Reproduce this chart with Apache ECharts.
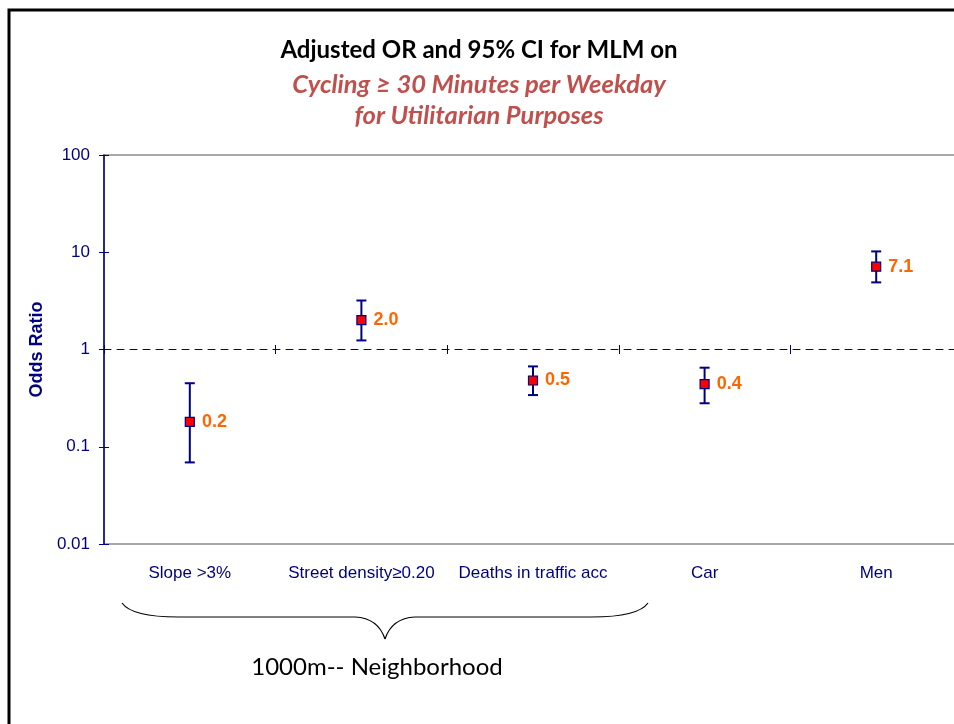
<!DOCTYPE html>
<html>
<head>
<meta charset="utf-8">
<script src="https://cdn.jsdelivr.net/npm/echarts@6/dist/echarts.min.js"></script>
<style>
  html, body { margin: 0; padding: 0; background: #fff; overflow: hidden; }
  #chart { width: 972px; height: 724px; }
</style>
</head>
<body>
<div id="chart"></div>
<script>
// Predictors on the x axis
const categories = ['Slope >3%', 'Street density\u22650.20', 'Deaths in traffic acc', 'Car', 'Men'];
// Adjusted odds ratios and 95% confidence limits
const oddsRatio = [0.18, 2.0, 0.48, 0.44, 7.1];
const ciLower   = [0.069, 1.24, 0.34, 0.28, 4.9];
const ciUpper   = [0.45, 3.19, 0.67, 0.65, 10.2];
// Y axis tick labels (log scale)
const yTicks = [0.01, 0.1, 1, 10, 100];

const NAVY = '#000080';
const chart = echarts.init(document.getElementById('chart'));

// plot area runs slightly past the right edge of the visible slide
const gridBox = { left: 104, top: 155, width: 858, height: 389 };

const yFmt = v => {
  let best = yTicks[0];
  yTicks.forEach(t => { if (Math.abs(Math.log10(t) - Math.log10(v)) < Math.abs(Math.log10(best) - Math.log10(v))) best = t; });
  return String(best);
};

const braceStyle = { stroke: '#000', lineWidth: 1.2, fill: null };

chart.setOption({
  animation: false,
  grid: Object.assign({ show: true, borderColor: '#8c8c8c', borderWidth: 1.5, backgroundColor: 'transparent' }, gridBox),
  xAxis: [
    {
      type: 'category', data: categories, position: 'bottom',
      axisLine: { show: false }, axisTick: { show: false },
      axisLabel: { color: NAVY, fontFamily: 'Liberation Sans', fontSize: 17, margin: 21, interval: 0 }
    },
    {
      // reference line at OR = 1, with ticks between categories
      type: 'category', data: categories, position: 'bottom', offset: -195,
      axisLine: { show: true, lineStyle: { color: NAVY, type: [7, 6], width: 1 } },
      axisTick: { show: true, length: 5, lineStyle: { color: NAVY } },
      axisLabel: { show: false }
    },
    {
      type: 'category', data: categories, position: 'bottom', offset: -195,
      axisLine: { show: false },
      axisTick: { show: true, inside: true, length: 4, lineStyle: { color: NAVY } },
      axisLabel: { show: false }
    }
  ],
  yAxis: [
    {
      type: 'log', logBase: 10, min: 0.01, max: 100,
      name: 'Odds Ratio', nameLocation: 'middle', nameGap: 57, nameRotate: 90,
      nameTextStyle: { color: NAVY, fontFamily: 'Liberation Sans', fontSize: 18, fontWeight: 'bold' },
      axisLine: { show: true, lineStyle: { color: NAVY, width: 1.5 } },
      axisTick: { show: true, length: 5, lineStyle: { color: NAVY } },
      axisLabel: { color: NAVY, fontFamily: 'Liberation Sans', fontSize: 17, margin: 14, formatter: yFmt },
      splitLine: { show: false }
    },
    {
      type: 'log', logBase: 10, min: 0.01, max: 100, position: 'left',
      axisLine: { show: false },
      axisTick: { show: true, inside: true, length: 5, lineStyle: { color: NAVY } },
      axisLabel: { show: false }, splitLine: { show: false }
    }
  ],
  series: [
    {
      // confidence interval whiskers
      type: 'custom',
      data: categories.map((c, i) => [i, ciLower[i], ciUpper[i]]),
      renderItem: (params, api) => {
        const lo = api.coord([api.value(0), api.value(1)]);
        const hi = api.coord([api.value(0), api.value(2)]);
        const cap = 5;
        const style = { stroke: NAVY, lineWidth: 2 };
        return {
          type: 'group',
          children: [
            { type: 'line', shape: { x1: lo[0], y1: lo[1], x2: hi[0], y2: hi[1] }, style },
            { type: 'line', shape: { x1: lo[0] - cap, y1: lo[1], x2: lo[0] + cap, y2: lo[1] }, style },
            { type: 'line', shape: { x1: hi[0] - cap, y1: hi[1], x2: hi[0] + cap, y2: hi[1] }, style }
          ]
        };
      },
      encode: { x: 0, y: [1, 2] },
      z: 2
    },
    {
      type: 'scatter',
      data: categories.map((c, i) => [i, oddsRatio[i]]),
      symbol: 'rect', symbolSize: 9,
      itemStyle: { color: '#ff0000', borderColor: NAVY, borderWidth: 1.2, opacity: 1 },
      label: {
        show: true, position: 'right', distance: 7,
        formatter: p => p.value[1].toFixed(1),
        color: '#ff6600', fontFamily: 'Liberation Sans', fontSize: 18, fontWeight: 'bold'
      },
      z: 3
    }
  ],
  graphic: [
    // slide frame
    { type: 'polyline', shape: { points: [[9, 724], [9, 10], [954, 10]] }, style: { stroke: '#000', lineWidth: 3, fill: null } },
    { type: 'text', x: 479, y: 50, style: { text: 'Adjusted OR and 95% CI for MLM on', fill: '#000', font: 'bold 24px Lato', textAlign: 'center', textVerticalAlign: 'middle' } },
    { type: 'text', x: 479, y: 85, style: { text: 'Cycling \u2265 30 Minutes per Weekday', fill: '#c0504d', font: 'italic bold 25.5px Lato', textAlign: 'center', textVerticalAlign: 'middle' } },
    { type: 'text', x: 479, y: 116, style: { text: 'for Utilitarian Purposes', fill: '#c0504d', font: 'italic bold 25.5px Lato', textAlign: 'center', textVerticalAlign: 'middle' } },
    // brace grouping the neighbourhood measures
    { type: 'bezierCurve', shape: { x1: 122, y1: 603, cpx1: 132, cpy1: 617, x2: 178, y2: 617 }, style: braceStyle },
    { type: 'line', shape: { x1: 178, y1: 617, x2: 355, y2: 617 }, style: braceStyle },
    { type: 'bezierCurve', shape: { x1: 355, y1: 617, cpx1: 378, cpy1: 618, x2: 385, y2: 639 }, style: braceStyle },
    { type: 'bezierCurve', shape: { x1: 385, y1: 639, cpx1: 392, cpy1: 618, x2: 415, y2: 617 }, style: braceStyle },
    { type: 'line', shape: { x1: 415, y1: 617, x2: 592, y2: 617 }, style: braceStyle },
    { type: 'bezierCurve', shape: { x1: 592, y1: 617, cpx1: 638, cpy1: 617, x2: 648, y2: 603 }, style: braceStyle },
    { type: 'text', x: 377, y: 667, style: { text: '1000m-- Neighborhood', fill: '#000', font: '24px Lato', textAlign: 'center', textVerticalAlign: 'middle' } }
  ]
});
</script>
</body>
</html>
